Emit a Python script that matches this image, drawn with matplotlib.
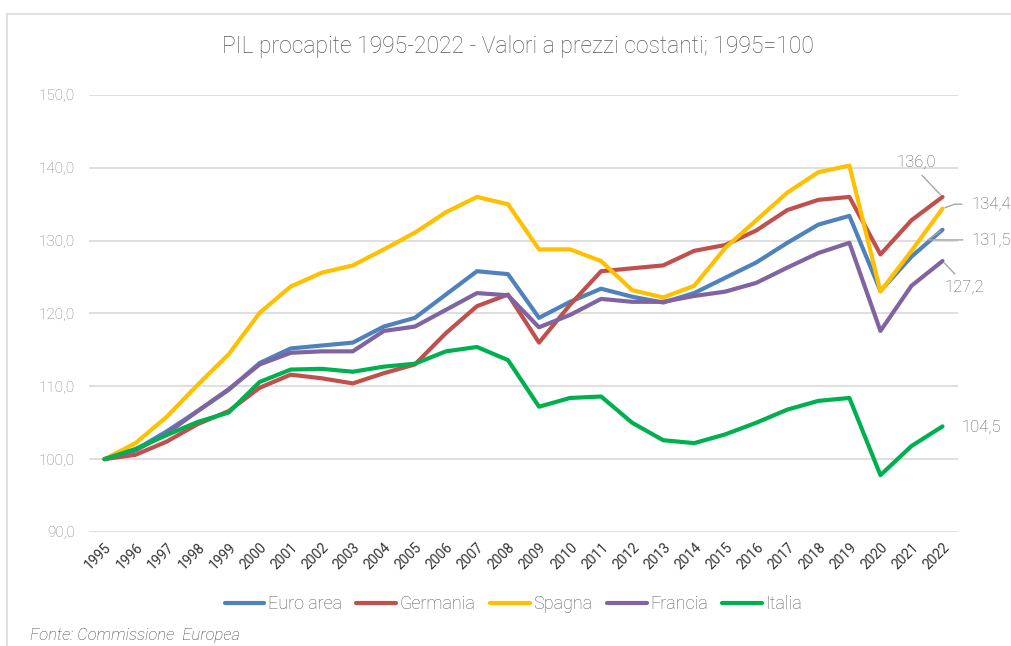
import matplotlib
matplotlib.use("Agg")
import matplotlib.pyplot as plt
from matplotlib.patches import Rectangle

plt.rcParams['font.family'] = ['Roboto', 'DejaVu Sans']
plt.rcParams['font.weight'] = 'light'

years = [str(y) for y in range(1995, 2023)]

euro_area = [100.0, 101.3, 103.8, 106.6, 109.5, 113.2, 115.2, 115.6, 116.0, 118.2,
             119.4, 122.6, 125.8, 125.4, 119.4, 121.6, 123.4, 122.3, 121.5, 122.8,
             124.9, 127.0, 129.7, 132.2, 133.4, 123.1, 127.8, 131.5]
germania = [100.0, 100.6, 102.4, 104.8, 106.6, 109.8, 111.6, 111.1, 110.4, 111.8,
            113.0, 117.3, 121.0, 122.6, 116.0, 121.2, 125.8, 126.2, 126.6, 128.6,
            129.4, 131.4, 134.2, 135.6, 136.0, 128.1, 132.8, 136.0]
spagna = [100.0, 102.2, 105.8, 110.2, 114.4, 120.1, 123.7, 125.6, 126.6, 128.8,
          131.1, 133.9, 136.0, 135.0, 128.8, 128.8, 127.2, 123.2, 122.2, 123.8,
          129.0, 132.8, 136.6, 139.4, 140.3, 123.0, 128.6, 134.4]
francia = [100.0, 101.2, 103.5, 106.6, 109.6, 113.0, 114.6, 114.8, 114.8, 117.6,
           118.2, 120.5, 122.8, 122.5, 118.1, 119.8, 122.0, 121.6, 121.6, 122.4,
           123.0, 124.2, 126.3, 128.3, 129.7, 117.6, 123.8, 127.2]
italia = [100.0, 101.4, 103.3, 105.1, 106.4, 110.6, 112.3, 112.4, 112.0, 112.7,
          113.1, 114.8, 115.4, 113.6, 107.2, 108.4, 108.6, 105.0, 102.6, 102.2,
          103.4, 105.0, 106.8, 108.0, 108.4, 97.8, 101.8, 104.5]

series = [("Euro area", euro_area, "#4F81BD"),
          ("Germania", germania, "#C0504D"),
          ("Spagna", spagna, "#FFC000"),
          ("Francia", francia, "#8064A2"),
          ("Italia", italia, "#00B050")]

fig = plt.figure(figsize=(10.11, 6.46), dpi=100)
ax = fig.add_axes([0.088, 0.1765, 0.8596, 0.6765])

# light frame around the chart
fig.patches.append(Rectangle((7 / 1011, -0.1), 1.2, 1 - 14 / 646 + 0.1,
                             transform=fig.transFigure, fill=False,
                             edgecolor="#D9D9D9", linewidth=1.2))

x = list(range(len(years)))
for name, vals, col in series:
    ax.plot(x, vals, color=col, linewidth=3, label=name, solid_capstyle="round")

ax.set_xlim(-0.5, len(years) - 0.5)
ax.set_ylim(90, 150)
ax.set_yticks(range(90, 151, 10))
ax.set_yticklabels([f"{v},0" for v in range(90, 151, 10)], color="#808080", fontsize=11)
ax.set_xticks(x)
ax.set_xticklabels(years, rotation=45, ha="right", rotation_mode="anchor",
                   color="#333333", fontsize=10, fontweight="normal")
ax.tick_params(length=0, pad=10)
ax.tick_params(axis="x", pad=6)
ax.grid(axis="y", color="#D9D9D9", linewidth=1.2)
ax.set_axisbelow(True)
for s in ax.spines.values():
    s.set_visible(False)

fig.text(0.512, 0.928, "PIL procapite 1995-2022 - Valori a prezzi costanti; 1995=100",
         ha="center", va="center", fontsize=16.5, color="#595959")

# end labels
last = len(years) - 1
lab_col = "#595959"
line_col = "#A6A6A6"
ax.annotate("136,0", xy=(last, germania[-1]), xytext=(last - 0.84, 140.8),
            fontsize=12, color=lab_col, ha="center", va="center",
            arrowprops=dict(arrowstyle="-", color=line_col, lw=1, shrinkA=3, shrinkB=2,
                            relpos=(0.5, 0)))
ax.annotate("134,4", xy=(last, spagna[-1]), xytext=(last + 0.94, 135.0),
            fontsize=12, color=lab_col, ha="left", va="center", annotation_clip=False,
            arrowprops=dict(arrowstyle="-", color=line_col, lw=1, shrinkA=5, shrinkB=2,
                            relpos=(0, 0.5),
                            connectionstyle="angle,angleA=0,angleB=20,rad=0"))
ax.annotate("131,5", xy=(last, euro_area[-1]), xytext=(last + 0.92, 130.1),
            fontsize=12, color=lab_col, ha="left", va="center", annotation_clip=False,
            arrowprops=dict(arrowstyle="-", color=line_col, lw=1, shrinkA=4, shrinkB=2,
                            relpos=(0, 0.5),
                            connectionstyle="angle,angleA=0,angleB=35,rad=0"))
ax.annotate("127,2", xy=(last, francia[-1]), xytext=(last + 0.7, 123.6),
            fontsize=12, color=lab_col, ha="center", va="center",
            annotation_clip=False,
            arrowprops=dict(arrowstyle="-", color=line_col, lw=1, shrinkA=3, shrinkB=2,
                            relpos=(0.4, 1)))
ax.annotate("104,5", xy=(last, italia[-1]), xytext=(last + 0.61, 104.4),
            fontsize=12, color=lab_col, ha="left", va="center", annotation_clip=False)

leg = fig.legend(loc="center", bbox_to_anchor=(0.508, 0.065), ncol=5, frameon=False,
                 fontsize=13, handlelength=2.2, handletextpad=0.2, columnspacing=0.8)
for t in leg.get_texts():
    t.set_color("#595959")

fig.text(0.03, 0.016, "Fonte: Commissione  Europea", fontsize=12, style="italic",
         color="#404040", ha="left", va="center")

fig.savefig("out.png", dpi=100)
